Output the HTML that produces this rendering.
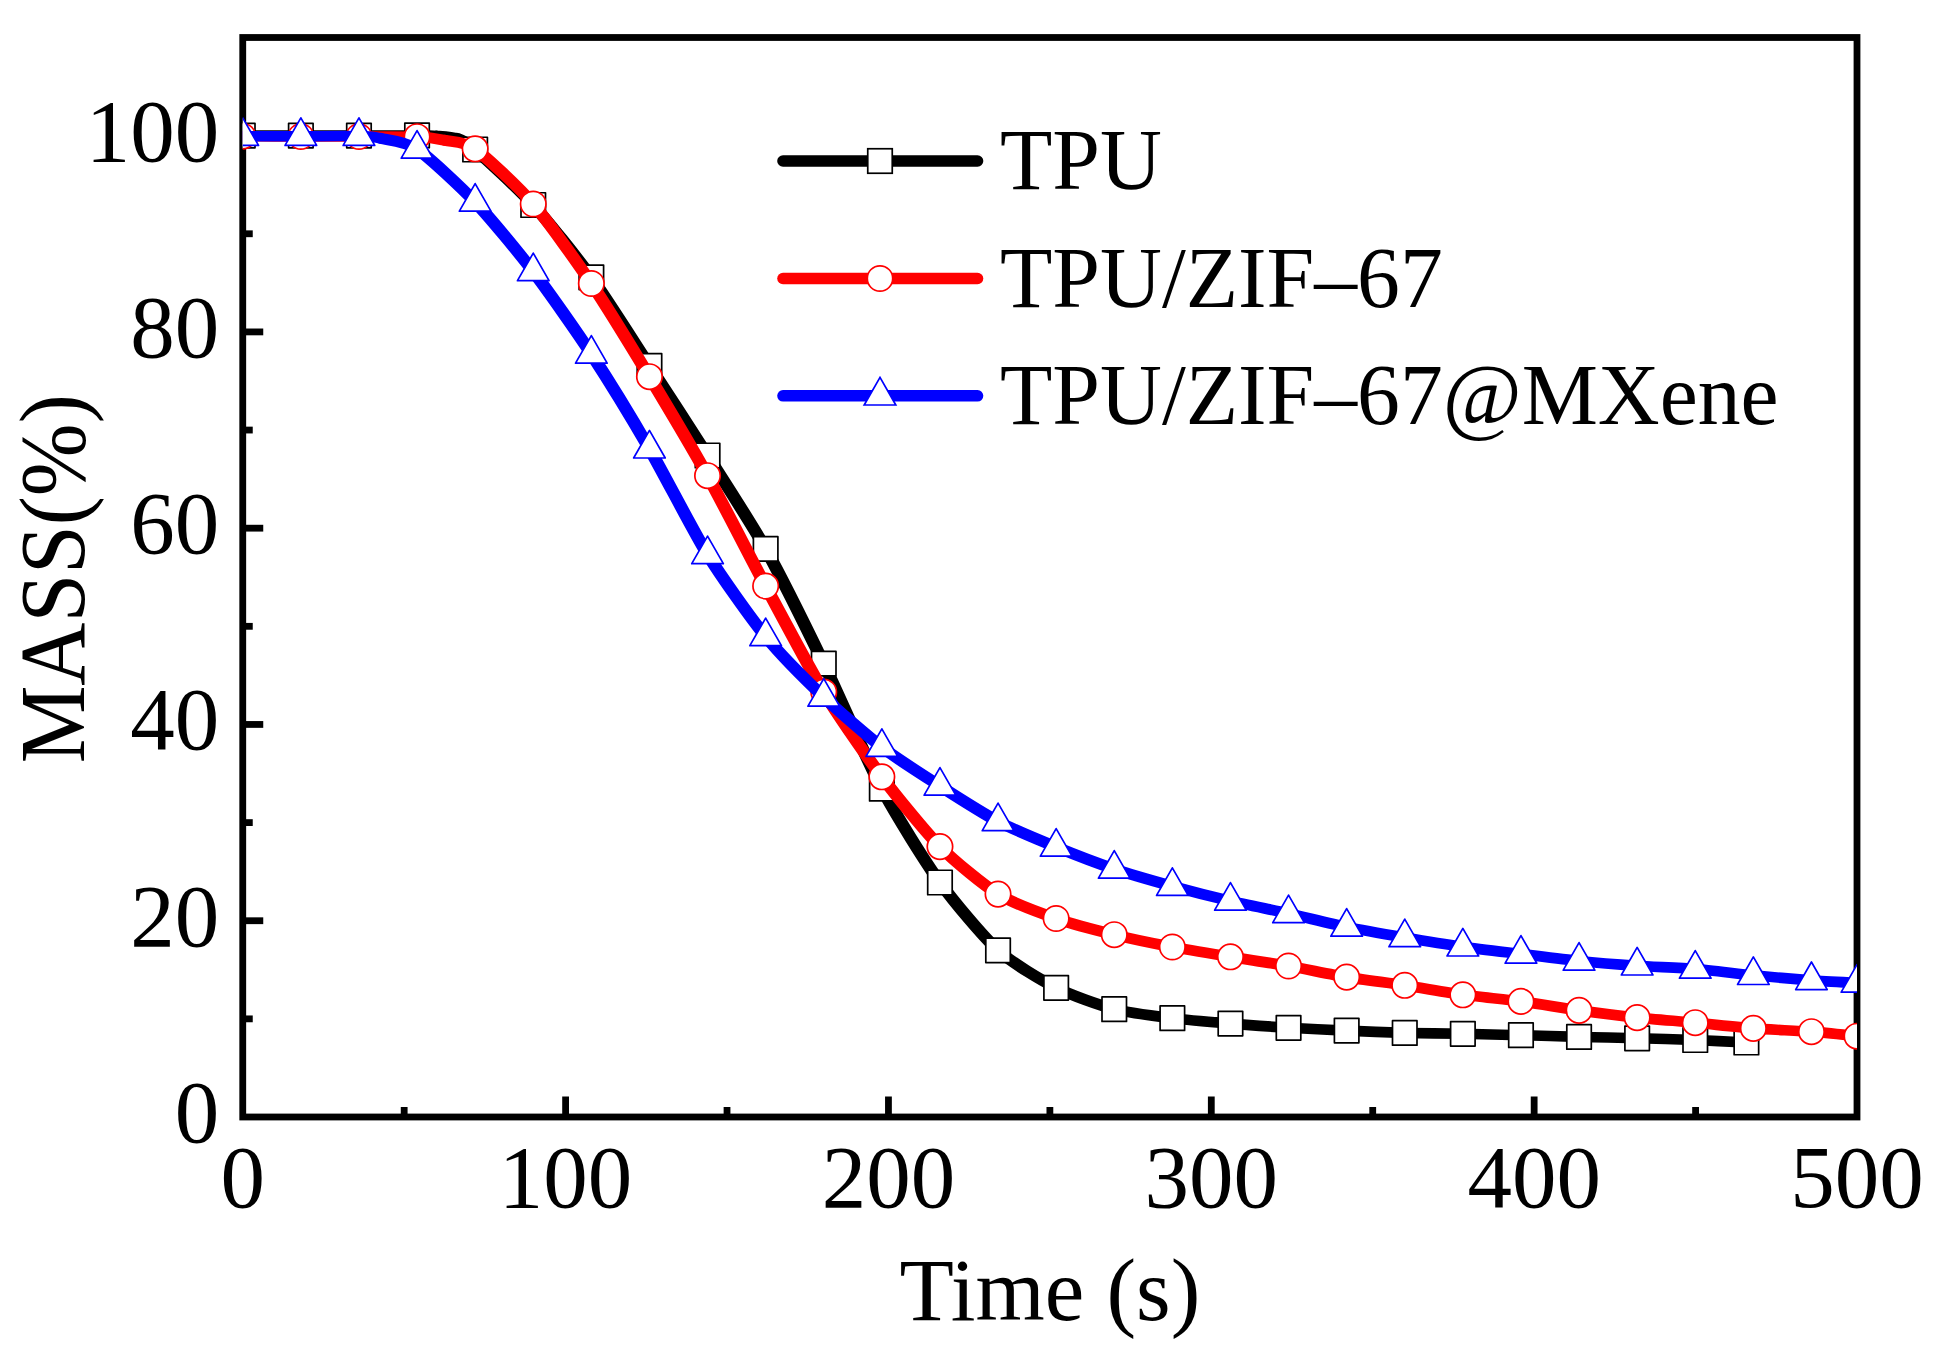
<!DOCTYPE html>
<html lang="en">
<head>
<meta charset="utf-8">
<title>TPU mass loss chart</title>
<style>
html,body{margin:0;padding:0;background:#fff;}
body{width:1948px;height:1353px;overflow:hidden;}
svg{display:block;}
text{font-family:"Liberation Serif",serif;fill:#000;}
.tick{font-size:89px;}
.leg{font-size:85.7px;}
.ttl{font-size:89px;}
</style>
</head>
<body>
<svg width="1948" height="1353" viewBox="0 0 1948 1353">
<rect x="0" y="0" width="1948" height="1353" fill="#fff"/>
<defs><clipPath id="plot"><rect x="242.75" y="37.50" width="1614.25" height="1079.50"/></clipPath></defs>
<g stroke="#000" stroke-width="6.8" fill="none"><line x1="404.18" y1="1117.00" x2="404.18" y2="1107.00"/><line x1="565.60" y1="1117.00" x2="565.60" y2="1096.50"/><line x1="727.02" y1="1117.00" x2="727.02" y2="1107.00"/><line x1="888.45" y1="1117.00" x2="888.45" y2="1096.50"/><line x1="1049.88" y1="1117.00" x2="1049.88" y2="1107.00"/><line x1="1211.30" y1="1117.00" x2="1211.30" y2="1096.50"/><line x1="1372.72" y1="1117.00" x2="1372.72" y2="1107.00"/><line x1="1534.15" y1="1117.00" x2="1534.15" y2="1096.50"/><line x1="1695.58" y1="1117.00" x2="1695.58" y2="1107.00"/><line x1="242.75" y1="1018.86" x2="252.75" y2="1018.86"/><line x1="242.75" y1="920.73" x2="263.25" y2="920.73"/><line x1="242.75" y1="822.59" x2="252.75" y2="822.59"/><line x1="242.75" y1="724.45" x2="263.25" y2="724.45"/><line x1="242.75" y1="626.32" x2="252.75" y2="626.32"/><line x1="242.75" y1="528.18" x2="263.25" y2="528.18"/><line x1="242.75" y1="430.05" x2="252.75" y2="430.05"/><line x1="242.75" y1="331.91" x2="263.25" y2="331.91"/><line x1="242.75" y1="233.77" x2="252.75" y2="233.77"/><line x1="242.75" y1="135.64" x2="263.25" y2="135.64"/></g>
<rect x="242.75" y="37.50" width="1614.25" height="1079.50" fill="none" stroke="#000" stroke-width="6.8"/>
<g clip-path="url(#plot)" fill="none" stroke-linejoin="round" stroke-linecap="round">
<g stroke="#000"><path d="M242.75 135.60 C249.72 135.60 286.91 135.60 300.85 135.60" stroke-width="10.50"/><path d="M300.85 135.60 C314.79 135.60 345.01 135.62 358.95 135.60" stroke-width="10.50"/><path d="M358.95 135.60 C372.89 135.58 407.68 135.35 417.05 135.40" stroke-width="10.51"/><path d="M417.05 135.40 C426.42 135.45 432.21 135.62 437.00 136.00" stroke-width="10.56"/><path d="M437.00 136.00 C441.79 136.38 452.42 136.98 457.00 138.60" stroke-width="10.78"/><path d="M457.00 138.60 C461.58 140.22 466.00 141.53 475.15 149.50" stroke-width="11.61"/><path d="M475.15 149.50 C484.30 157.47 519.31 189.66 533.25 205.00" stroke-width="11.99"/><path d="M533.25 205.00 C547.19 220.34 577.41 258.00 591.35 277.30" stroke-width="12.18"/><path d="M591.35 277.30 C605.29 296.60 635.51 344.42 649.45 365.80" stroke-width="12.30"/><path d="M649.45 365.80 C663.39 387.18 693.61 433.53 707.55 455.50" stroke-width="12.31"/><path d="M707.55 455.50 C721.49 477.47 751.71 523.92 765.65 548.90" stroke-width="12.33"/><path d="M765.65 548.90 C779.59 573.88 809.81 634.92 823.75 663.70" stroke-width="12.42"/><path d="M823.75 663.70 C837.69 692.48 867.91 762.44 881.85 788.70" stroke-width="12.45"/><path d="M881.85 788.70 C895.79 814.96 926.01 863.11 939.95 882.50" stroke-width="12.33"/><path d="M939.95 882.50 C953.89 901.89 984.11 937.66 998.05 950.30" stroke-width="12.13"/><path d="M998.05 950.30 C1011.99 962.94 1042.21 980.73 1056.15 987.80" stroke-width="11.67"/><path d="M1056.15 987.80 C1070.09 994.87 1100.31 1005.55 1114.25 1009.20" stroke-width="11.24"/><path d="M1114.25 1009.20 C1128.19 1012.85 1158.41 1016.47 1172.35 1018.20" stroke-width="10.83"/><path d="M1172.35 1018.20 C1186.29 1019.93 1216.51 1022.45 1230.45 1023.60" stroke-width="10.70"/><path d="M1230.45 1023.60 C1244.39 1024.75 1274.61 1026.96 1288.55 1027.80" stroke-width="10.66"/><path d="M1288.55 1027.80 C1302.49 1028.64 1332.71 1029.99 1346.65 1030.60" stroke-width="10.60"/><path d="M1346.65 1030.60 C1360.59 1031.21 1390.81 1032.52 1404.75 1032.90" stroke-width="10.59"/><path d="M1404.75 1032.90 C1418.69 1033.28 1448.91 1033.52 1462.85 1033.80" stroke-width="10.53"/><path d="M1462.85 1033.80 C1476.79 1034.08 1507.01 1034.83 1520.95 1035.20" stroke-width="10.55"/><path d="M1520.95 1035.20 C1534.89 1035.57 1565.11 1036.53 1579.05 1036.90" stroke-width="10.56"/><path d="M1579.05 1036.90 C1592.99 1037.27 1623.21 1037.93 1637.15 1038.30" stroke-width="10.55"/><path d="M1637.15 1038.30 C1651.09 1038.67 1682.14 1039.50 1695.25 1040.00" stroke-width="10.56"/><path d="M1695.25 1040.00 C1708.36 1040.50 1740.26 1042.20 1746.40 1042.50" stroke-width="10.61"/></g>
<g fill="#fff" stroke="#000" stroke-width="1.7"><rect x="230.50" y="123.35" width="24.5" height="24.5"/><rect x="288.60" y="123.35" width="24.5" height="24.5"/><rect x="346.70" y="123.35" width="24.5" height="24.5"/><rect x="404.80" y="123.15" width="24.5" height="24.5"/><rect x="462.90" y="137.25" width="24.5" height="24.5"/><rect x="521.00" y="192.75" width="24.5" height="24.5"/><rect x="579.10" y="265.05" width="24.5" height="24.5"/><rect x="637.20" y="353.55" width="24.5" height="24.5"/><rect x="695.30" y="443.25" width="24.5" height="24.5"/><rect x="753.40" y="536.65" width="24.5" height="24.5"/><rect x="811.50" y="651.45" width="24.5" height="24.5"/><rect x="869.60" y="776.45" width="24.5" height="24.5"/><rect x="927.70" y="870.25" width="24.5" height="24.5"/><rect x="985.80" y="938.05" width="24.5" height="24.5"/><rect x="1043.90" y="975.55" width="24.5" height="24.5"/><rect x="1102.00" y="996.95" width="24.5" height="24.5"/><rect x="1160.10" y="1005.95" width="24.5" height="24.5"/><rect x="1218.20" y="1011.35" width="24.5" height="24.5"/><rect x="1276.30" y="1015.55" width="24.5" height="24.5"/><rect x="1334.40" y="1018.35" width="24.5" height="24.5"/><rect x="1392.50" y="1020.65" width="24.5" height="24.5"/><rect x="1450.60" y="1021.55" width="24.5" height="24.5"/><rect x="1508.70" y="1022.95" width="24.5" height="24.5"/><rect x="1566.80" y="1024.65" width="24.5" height="24.5"/><rect x="1624.90" y="1026.05" width="24.5" height="24.5"/><rect x="1683.00" y="1027.75" width="24.5" height="24.5"/><rect x="1734.15" y="1030.25" width="24.5" height="24.5"/></g>
<g stroke="#f00"><path d="M242.75 136.20 C249.72 136.24 286.91 136.46 300.85 136.50" stroke-width="10.51"/><path d="M300.85 136.50 C314.79 136.54 345.01 136.48 358.95 136.50" stroke-width="10.50"/><path d="M358.95 136.50 C372.89 136.52 406.72 136.23 417.05 136.70" stroke-width="10.51"/><path d="M417.05 136.70 C427.38 137.17 438.03 138.95 445.00 140.40" stroke-width="10.78"/><path d="M445.00 140.40 C451.97 141.85 464.56 141.17 475.15 148.80" stroke-width="11.08"/><path d="M475.15 148.80 C485.74 156.43 519.31 187.84 533.25 204.00" stroke-width="11.98"/><path d="M533.25 204.00 C547.19 220.16 577.41 262.78 591.35 283.50" stroke-width="12.24"/><path d="M591.35 283.50 C605.29 304.22 635.51 353.64 649.45 376.70" stroke-width="12.33"/><path d="M649.45 376.70 C663.39 399.76 693.61 450.57 707.55 475.70" stroke-width="12.36"/><path d="M707.55 475.70 C721.49 500.83 751.71 560.14 765.65 586.10" stroke-width="12.40"/><path d="M765.65 586.10 C779.59 612.06 809.81 669.12 823.75 692.00" stroke-width="12.39"/><path d="M823.75 692.00 C837.69 714.88 867.91 758.25 881.85 776.80" stroke-width="12.28"/><path d="M881.85 776.80 C895.79 795.35 926.01 832.52 939.95 846.60" stroke-width="12.15"/><path d="M939.95 846.60 C953.89 860.68 984.11 885.47 998.05 894.10" stroke-width="11.86"/><path d="M998.05 894.10 C1011.99 902.73 1042.21 913.63 1056.15 918.50" stroke-width="11.33"/><path d="M1056.15 918.50 C1070.09 923.37 1100.31 931.28 1114.25 934.70" stroke-width="11.08"/><path d="M1114.25 934.70 C1128.19 938.12 1158.41 944.35 1172.35 947.00" stroke-width="10.95"/><path d="M1172.35 947.00 C1186.29 949.65 1216.51 954.52 1230.45 956.80" stroke-width="10.86"/><path d="M1230.45 956.80 C1244.39 959.08 1274.61 963.56 1288.55 966.00" stroke-width="10.84"/><path d="M1288.55 966.00 C1302.49 968.44 1332.71 974.78 1346.65 977.10" stroke-width="10.90"/><path d="M1346.65 977.10 C1360.59 979.42 1390.81 983.18 1404.75 985.30" stroke-width="10.80"/><path d="M1404.75 985.30 C1418.69 987.42 1448.91 992.87 1462.85 994.80" stroke-width="10.85"/><path d="M1462.85 994.80 C1476.79 996.73 1507.01 999.53 1520.95 1001.40" stroke-width="10.74"/><path d="M1520.95 1001.40 C1534.89 1003.27 1565.11 1008.46 1579.05 1010.40" stroke-width="10.83"/><path d="M1579.05 1010.40 C1592.99 1012.34 1623.21 1016.12 1637.15 1017.60" stroke-width="10.76"/><path d="M1637.15 1017.60 C1651.09 1019.08 1681.31 1021.40 1695.25 1022.70" stroke-width="10.69"/><path d="M1695.25 1022.70 C1709.19 1024.00 1739.41 1027.32 1753.35 1028.40" stroke-width="10.71"/><path d="M1753.35 1028.40 C1767.29 1029.48 1799.01 1030.76 1811.45 1031.70" stroke-width="10.62"/><path d="M1811.45 1031.70 C1823.89 1032.64 1851.53 1035.66 1857.00 1036.20" stroke-width="10.71"/></g>
<g fill="#fff" stroke="#f00" stroke-width="1.7"><circle cx="242.75" cy="136.20" r="12.7"/><circle cx="300.85" cy="136.50" r="12.7"/><circle cx="358.95" cy="136.50" r="12.7"/><circle cx="417.05" cy="136.70" r="12.7"/><circle cx="475.15" cy="148.80" r="12.7"/><circle cx="533.25" cy="204.00" r="12.7"/><circle cx="591.35" cy="283.50" r="12.7"/><circle cx="649.45" cy="376.70" r="12.7"/><circle cx="707.55" cy="475.70" r="12.7"/><circle cx="765.65" cy="586.10" r="12.7"/><circle cx="823.75" cy="692.00" r="12.7"/><circle cx="881.85" cy="776.80" r="12.7"/><circle cx="939.95" cy="846.60" r="12.7"/><circle cx="998.05" cy="894.10" r="12.7"/><circle cx="1056.15" cy="918.50" r="12.7"/><circle cx="1114.25" cy="934.70" r="12.7"/><circle cx="1172.35" cy="947.00" r="12.7"/><circle cx="1230.45" cy="956.80" r="12.7"/><circle cx="1288.55" cy="966.00" r="12.7"/><circle cx="1346.65" cy="977.10" r="12.7"/><circle cx="1404.75" cy="985.30" r="12.7"/><circle cx="1462.85" cy="994.80" r="12.7"/><circle cx="1520.95" cy="1001.40" r="12.7"/><circle cx="1579.05" cy="1010.40" r="12.7"/><circle cx="1637.15" cy="1017.60" r="12.7"/><circle cx="1695.25" cy="1022.70" r="12.7"/><circle cx="1753.35" cy="1028.40" r="12.7"/><circle cx="1811.45" cy="1031.70" r="12.7"/><circle cx="1857.00" cy="1036.20" r="12.7"/></g>
<g stroke="#00f"><path d="M242.75 136.20 C249.72 136.20 286.91 136.20 300.85 136.20" stroke-width="10.50"/><path d="M300.85 136.20 C314.79 136.20 349.33 135.94 358.95 136.20" stroke-width="10.50"/><path d="M358.95 136.20 C368.57 136.46 374.03 136.86 381.00 138.40" stroke-width="10.71"/><path d="M381.00 138.40 C387.97 139.94 405.75 141.37 417.05 149.00" stroke-width="11.11"/><path d="M417.05 149.00 C428.35 156.63 461.21 187.30 475.15 202.00" stroke-width="11.95"/><path d="M475.15 202.00 C489.09 216.70 519.31 253.26 533.25 271.50" stroke-width="12.15"/><path d="M533.25 271.50 C547.19 289.74 577.41 332.72 591.35 354.00" stroke-width="12.26"/><path d="M591.35 354.00 C605.29 375.28 635.51 424.74 649.45 448.80" stroke-width="12.33"/><path d="M649.45 448.80 C663.39 472.86 693.61 531.98 707.55 554.50" stroke-width="12.39"/><path d="M707.55 554.50 C721.49 577.02 751.71 619.40 765.65 636.50" stroke-width="12.26"/><path d="M765.65 636.50 C779.59 653.60 809.81 683.72 823.75 697.00" stroke-width="12.05"/><path d="M823.75 697.00 C837.69 710.28 867.91 736.52 881.85 747.20" stroke-width="11.91"/><path d="M881.85 747.20 C895.79 757.88 926.01 777.08 939.95 786.00" stroke-width="11.70"/><path d="M939.95 786.00 C953.89 794.92 984.11 814.18 998.05 821.50" stroke-width="11.62"/><path d="M998.05 821.50 C1011.99 828.82 1042.21 841.30 1056.15 847.00" stroke-width="11.36"/><path d="M1056.15 847.00 C1070.09 852.70 1100.31 864.30 1114.25 869.00" stroke-width="11.26"/><path d="M1114.25 869.00 C1128.19 873.70 1158.41 882.36 1172.35 886.20" stroke-width="11.11"/><path d="M1172.35 886.20 C1186.29 890.04 1216.51 897.72 1230.45 901.00" stroke-width="11.03"/><path d="M1230.45 901.00 C1244.39 904.28 1274.61 910.38 1288.55 913.50" stroke-width="10.95"/><path d="M1288.55 913.50 C1302.49 916.62 1332.71 924.12 1346.65 927.00" stroke-width="10.99"/><path d="M1346.65 927.00 C1360.59 929.88 1390.81 935.12 1404.75 937.50" stroke-width="10.88"/><path d="M1404.75 937.50 C1418.69 939.88 1448.91 944.82 1462.85 946.80" stroke-width="10.84"/><path d="M1462.85 946.80 C1476.79 948.78 1507.01 952.30 1520.95 954.00" stroke-width="10.76"/><path d="M1520.95 954.00 C1534.89 955.70 1565.11 959.58 1579.05 961.00" stroke-width="10.76"/><path d="M1579.05 961.00 C1592.99 962.42 1623.21 964.84 1637.15 965.80" stroke-width="10.68"/><path d="M1637.15 965.80 C1651.09 966.76 1681.31 967.86 1695.25 969.00" stroke-width="10.62"/><path d="M1695.25 969.00 C1709.19 970.14 1739.41 973.93 1753.35 975.30" stroke-width="10.73"/><path d="M1753.35 975.30 C1767.29 976.67 1799.01 979.48 1811.45 980.40" stroke-width="10.69"/><path d="M1811.45 980.40 C1823.89 981.32 1851.53 982.69 1857.00 983.00" stroke-width="10.62"/></g>
<g fill="#fff" stroke="#00f" stroke-width="1.7"><polygon points="242.75,117.80 258.55,145.40 226.95,145.40"/><polygon points="300.85,117.80 316.65,145.40 285.05,145.40"/><polygon points="358.95,117.80 374.75,145.40 343.15,145.40"/><polygon points="417.05,130.60 432.85,158.20 401.25,158.20"/><polygon points="475.15,183.60 490.95,211.20 459.35,211.20"/><polygon points="533.25,253.10 549.05,280.70 517.45,280.70"/><polygon points="591.35,335.60 607.15,363.20 575.55,363.20"/><polygon points="649.45,430.40 665.25,458.00 633.65,458.00"/><polygon points="707.55,536.10 723.35,563.70 691.75,563.70"/><polygon points="765.65,618.10 781.45,645.70 749.85,645.70"/><polygon points="823.75,678.60 839.55,706.20 807.95,706.20"/><polygon points="881.85,728.80 897.65,756.40 866.05,756.40"/><polygon points="939.95,767.60 955.75,795.20 924.15,795.20"/><polygon points="998.05,803.10 1013.85,830.70 982.25,830.70"/><polygon points="1056.15,828.60 1071.95,856.20 1040.35,856.20"/><polygon points="1114.25,850.60 1130.05,878.20 1098.45,878.20"/><polygon points="1172.35,867.80 1188.15,895.40 1156.55,895.40"/><polygon points="1230.45,882.60 1246.25,910.20 1214.65,910.20"/><polygon points="1288.55,895.10 1304.35,922.70 1272.75,922.70"/><polygon points="1346.65,908.60 1362.45,936.20 1330.85,936.20"/><polygon points="1404.75,919.10 1420.55,946.70 1388.95,946.70"/><polygon points="1462.85,928.40 1478.65,956.00 1447.05,956.00"/><polygon points="1520.95,935.60 1536.75,963.20 1505.15,963.20"/><polygon points="1579.05,942.60 1594.85,970.20 1563.25,970.20"/><polygon points="1637.15,947.40 1652.95,975.00 1621.35,975.00"/><polygon points="1695.25,950.60 1711.05,978.20 1679.45,978.20"/><polygon points="1753.35,956.90 1769.15,984.50 1737.55,984.50"/><polygon points="1811.45,962.00 1827.25,989.60 1795.65,989.60"/><polygon points="1857.00,964.60 1872.80,992.20 1841.20,992.20"/></g>
</g>
<text class="tick" x="242.75" y="1206.5" text-anchor="middle">0</text>
<text class="tick" x="565.60" y="1206.5" text-anchor="middle">100</text>
<text class="tick" x="888.45" y="1206.5" text-anchor="middle">200</text>
<text class="tick" x="1211.30" y="1206.5" text-anchor="middle">300</text>
<text class="tick" x="1534.15" y="1206.5" text-anchor="middle">400</text>
<text class="tick" x="1857.00" y="1206.5" text-anchor="middle">500</text>
<text class="tick" x="219.3" y="1142.00" text-anchor="end">0</text>
<text class="tick" x="219.3" y="945.73" text-anchor="end">20</text>
<text class="tick" x="219.3" y="749.45" text-anchor="end">40</text>
<text class="tick" x="219.3" y="553.18" text-anchor="end">60</text>
<text class="tick" x="219.3" y="356.91" text-anchor="end">80</text>
<text class="tick" x="219.3" y="160.64" text-anchor="end">100</text>
<text class="ttl" x="1049.88" y="1319.5" text-anchor="middle">Time (s)</text>
<text class="ttl" transform="translate(83.5 578.8) rotate(-90) scale(0.94 1)" font-size="93" style="font-size:93px" text-anchor="middle">MASS(%)</text>
<line x1="783.0" y1="161.0" x2="977.5" y2="161.0" stroke="#000" stroke-width="11.6" stroke-linecap="round"/><g fill="#fff" stroke="#000" stroke-width="1.7"><rect x="867.75" y="148.75" width="24.5" height="24.5"/></g><text class="leg" x="1000" y="189.3">TPU</text>
<line x1="783.0" y1="278.5" x2="977.5" y2="278.5" stroke="#f00" stroke-width="11.6" stroke-linecap="round"/><g fill="#fff" stroke="#f00" stroke-width="1.7"><circle cx="880.00" cy="278.50" r="12.7"/></g><text class="leg" x="1000" y="306.8">TPU/ZIF–67</text>
<line x1="783.0" y1="395.8" x2="977.5" y2="395.8" stroke="#00f" stroke-width="11.6" stroke-linecap="round"/><g fill="#fff" stroke="#00f" stroke-width="1.7"><polygon points="880.00,377.40 895.80,405.00 864.20,405.00"/></g><text class="leg" x="1000" y="424.1">TPU/ZIF–67@MXene</text>
</svg>
</body>
</html>
